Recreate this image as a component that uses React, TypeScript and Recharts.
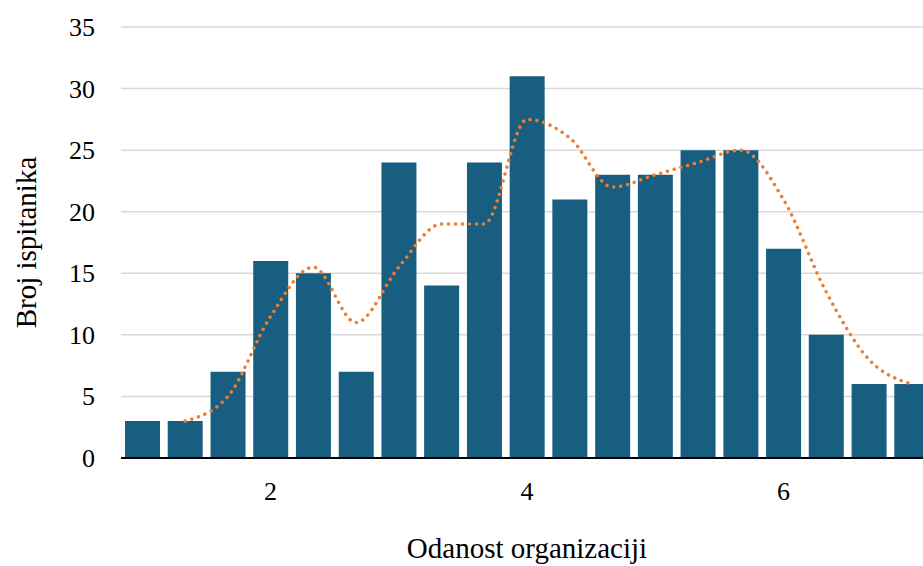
import React from 'react';
import { ComposedChart, Bar, Line, XAxis, YAxis, CartesianGrid } from 'recharts';

// bin centres on the "Odanost organizaciji" scale (width 1/3)
const binCenters = [1, 1.333, 1.667, 2, 2.333, 2.667, 3, 3.333, 3.667, 4, 4.333, 4.667, 5, 5.333, 5.667, 6, 6.333, 6.667, 7];
const counts = [3, 3, 7, 16, 15, 7, 24, 14, 24, 31, 21, 23, 23, 25, 25, 17, 10, 6, 6];
// dotted trend line (2-period moving average)
const trend = [null, 3, 5, 11.5, 15.5, 11, 15.5, 19, 19, 27.5, 26, 22, 23, 24, 25, 21, 13.5, 8, 6];
const xTicks = [2, 4, 6];
const yTicks = [0, 5, 10, 15, 20, 25, 30, 35];

const data = binCenters.map((x, i) => ({ x, count: counts[i], trend: trend[i] }));

const font = '"Liberation Serif", "Times New Roman", serif';

const XTick = ({ x, y, payload }: any) => (
  <text x={x} y={y} dy={19} textAnchor="middle" fill="#000" fontSize={26} fontFamily={font} style={{ fontFamily: font }}>
    {payload.value}
  </text>
);

const YTick = ({ x, y, payload }: any) => (
  <text x={x} y={y} dy={9} textAnchor="end" fill="#000" fontSize={26} fontFamily={font} style={{ fontFamily: font }}>
    {payload.value}
  </text>
);

const App: React.FC = () => {
  return (
    <div style={{ position: 'absolute', left: 0, top: 0, width: 923, height: 566, overflow: 'hidden', background: '#fff', fontFamily: font }}>
      <ComposedChart
        width={933}
        height={566}
        data={data}
        margin={{ top: 27, right: 0, left: 0, bottom: 0 }}
        style={{ fontFamily: font }}
      >
        <CartesianGrid vertical={false} stroke="#d9d9d9" strokeWidth={1.5} />
        <XAxis
          dataKey="x"
          type="number"
          domain={[5 / 6, 43 / 6]}
          ticks={xTicks}
          allowDataOverflow
          tick={<XTick />}
          tickLine={false}
          tickSize={0}
          tickMargin={23}
          axisLine={{ stroke: '#000', strokeWidth: 2 }}
          height={108}
          label={{
            value: 'Odanost organizaciji',
            position: 'insideBottom',
            offset: 8,
            style: { fill: '#000', fontSize: 29, fontFamily: font },
          }}
        />
        <YAxis
          domain={[0, 35]}
          ticks={yTicks}
          width={121}
          tick={<YTick />}
          tickLine={false}
          tickSize={0}
          tickMargin={26}
          axisLine={false}
          label={{
            value: 'Broj ispitanika',
            angle: -90,
            position: 'insideLeft',
            offset: 26,
            style: { fill: '#000', fontSize: 29, fontFamily: font, textAnchor: 'middle' },
          }}
        />
        <Bar dataKey="count" fill="#175E81" barSize={35} isAnimationActive={false} />
        <Line
          dataKey="trend"
          type="monotone"
          stroke="#ED7D31"
          strokeWidth={3.5}
          strokeLinecap="round"
          strokeDasharray="0.01 7"
          dot={false}
          activeDot={false}
          isAnimationActive={false}
        />
      </ComposedChart>
    </div>
  );
};

export default App;
